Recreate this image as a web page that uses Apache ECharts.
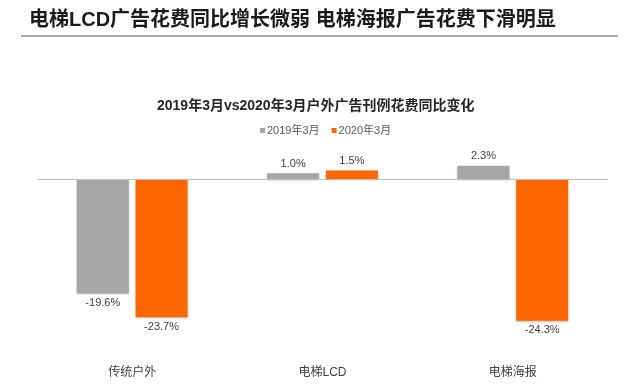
<!DOCTYPE html>
<html>
<head>
<meta charset="utf-8">
<script src="https://cdn.jsdelivr.net/npm/echarts@6/dist/echarts.min.js"></script>
<style>
html,body{margin:0;padding:0;background:#fff;}
#c{width:639px;height:392px;}
</style>
</head>
<body>
<div id="c"></div>
<script>
var categories = ['传统户外', '电梯LCD', '电梯海报'];
var seriesNames = ['2019年3月', '2020年3月'];
var values2019 = [-19.6, 1.0, 2.3];
var values2020 = [-23.7, 1.5, -24.3];
var mainTitle = '电梯LCD广告花费同比增长微弱 电梯海报广告花费下滑明显';
var chartTitle = '2019年3月vs2020年3月户外广告刊例花费同比变化';

var FONT = '"Liberation Sans", Arial, "Noto Sans CJK SC", sans-serif';

function toData(arr) {
  return arr.map(function (v) {
    return { value: v, label: { position: v < 0 ? 'bottom' : 'top' } };
  });
}

var labelCfg = {
  show: true,
  distance: 4,
  fontSize: 11,
  color: '#404040',
  fontFamily: FONT,
  formatter: function (p) { return p.value.toFixed(1) + '%'; }
};

var chart = echarts.init(document.getElementById('c'), null, { renderer: 'canvas' });
chart.setOption({
  backgroundColor: '#ffffff',
  animation: false,
  title: [
    {
      text: mainTitle, left: 29, top: 10, padding: 0,
      textStyle: { fontSize: 20, fontWeight: 'bold', color: '#1a1a1a', fontFamily: FONT }
    },
    {
      text: chartTitle, left: 157, top: 99, padding: 0,
      textStyle: { fontSize: 14, fontWeight: 'bold', color: '#262626', fontFamily: FONT }
    }
  ],
  graphic: [
    {
      type: 'line',
      shape: { x1: 21, y1: 36, x2: 618, y2: 36 },
      style: { stroke: '#8c8c8c', lineWidth: 1.5 }
    }
  ],
  legend: {
    data: seriesNames,
    left: 260, top: 125, padding: 0,
    icon: 'rect', itemWidth: 5, itemHeight: 5, itemGap: 12,
    textStyle: { fontSize: 11, color: '#595959', fontFamily: FONT, padding: [0, 0, 0, -3] }
  },
  grid: { left: 37, right: 31, top: 150, bottom: 38 },
  xAxis: {
    type: 'category',
    data: categories,
    axisLine: { show: false, onZero: false },
    axisTick: { show: false },
    axisLabel: { margin: 13, fontSize: 12, color: '#404040', fontFamily: FONT }
  },
  yAxis: {
    type: 'value', min: -30, max: 5,
    show: false,
    splitLine: { show: false }
  },
  series: [
    {
      name: seriesNames[0], type: 'bar', data: toData(values2019),
      barWidth: 52, barGap: '13%',
      itemStyle: { color: '#a6a6a6', shadowBlur: 2, shadowColor: 'rgba(0,0,0,0.25)', shadowOffsetY: 1 },
      label: labelCfg,
      markLine: {
        silent: true, symbol: 'none',
        label: { show: false },
        lineStyle: { color: '#bfbfbf', width: 1, type: 'solid' },
        data: [{ yAxis: 0 }]
      },
      z: 2
    },
    {
      name: seriesNames[1], type: 'bar', data: toData(values2020),
      barWidth: 52,
      itemStyle: { color: '#fe6700', shadowBlur: 2, shadowColor: 'rgba(0,0,0,0.25)', shadowOffsetY: 1 },
      label: labelCfg,
      z: 2
    }
  ]
});
</script>
</body>
</html>
